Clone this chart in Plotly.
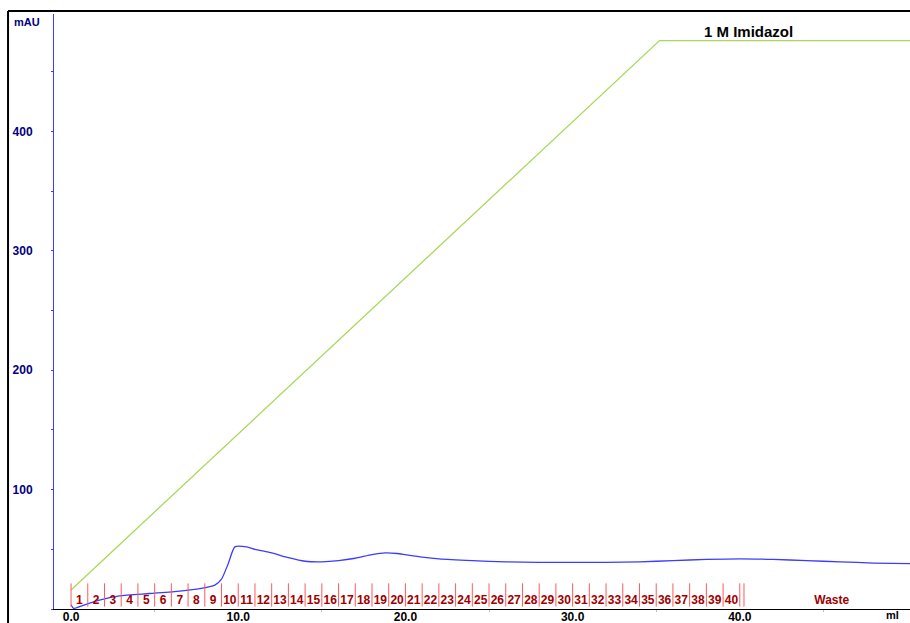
import plotly.graph_objects as go

# UV absorbance trace (ml, mAU)
uv_ml = [0.0, 0.15, 0.6, 1.7, 2.9, 4.7, 6.5, 7.7, 8.6, 9.0, 9.4, 9.8, 10.5, 11.0, 12.0,
         13.0, 14.0, 15.0, 16.0, 17.0, 18.0, 18.8, 19.5, 20.0, 21.0, 22.0, 24.0, 26.0,
         28.0, 30.0, 32.0, 34.0, 36.0, 38.0, 40.0, 42.0, 44.0, 46.0, 48.0, 50.2]
uv_mau = [3.5, 0.5, 2.5, 7.5, 11.0, 13.0, 15.0, 17.0, 20.0, 25.0, 38.0, 52.0, 52.0, 50.0, 47.0,
          43.0, 40.0, 39.5, 40.5, 42.5, 45.5, 47.0, 46.5, 45.5, 43.5, 42.0, 40.5, 39.5,
          39.0, 39.0, 39.0, 39.5, 40.5, 41.5, 42.0, 41.5, 40.5, 39.5, 38.5, 38.0]

# Imidazole gradient drawn on the mAU scale
grad_ml = [0.0, 35.2, 50.2]
grad_mau = [16.0, 476.0, 476.0]

# Fraction collection: 1 ml fractions, then waste
frac_edges = list(range(0, 41)) + [40.25]
frac_labels = [str(i) for i in range(1, 41)]
waste_label = "Waste"

FONT = "Liberation Sans, Arial"

fig = go.Figure()

fig.add_trace(go.Scatter(x=grad_ml, y=grad_mau, mode="lines",
                         line=dict(color="#aad85a", width=1.3), hoverinfo="skip"))
fig.add_trace(go.Scatter(x=uv_ml, y=uv_mau, mode="lines",
                         line=dict(color="#3c3cff", width=1.3, shape="spline", smoothing=0.6),
                         hoverinfo="skip"))

# fraction boundary marks
fx, fy = [], []
for e in frac_edges:
    fx += [e, e, None]
    fy += [2.0, 21.5, None]
fig.add_trace(go.Scatter(x=fx, y=fy, mode="lines",
                         line=dict(color="#ff5a5a", width=1), hoverinfo="skip"))

# fraction numbers
fig.add_trace(go.Scatter(x=[i + 0.5 for i in range(40)], y=[6.5] * 40, mode="text",
                         text=["<b>%s</b>" % t for t in frac_labels],
                         textfont=dict(family=FONT, size=12, color="#a00000"),
                         hoverinfo="skip"))
fig.add_trace(go.Scatter(x=[45.5], y=[6.5], mode="text", text=["<b>%s</b>" % waste_label],
                         textfont=dict(family=FONT, size=12, color="#a00000"),
                         hoverinfo="skip"))

fig.add_annotation(x=40.5, y=484, text="<b>1 M Imidazol</b>", showarrow=False,
                   font=dict(family=FONT, size=15, color="#000000"))
fig.add_annotation(xref="paper", yref="paper", x=-0.049, y=0.987, xanchor="left",
                   yanchor="middle", text="<b>mAU</b>", showarrow=False,
                   font=dict(family=FONT, size=11, color="#000080"))
fig.add_annotation(xref="paper", yref="paper", x=0.979, y=-0.0105, xanchor="center",
                   yanchor="middle", text="<b>ml</b>", showarrow=False,
                   font=dict(family=FONT, size=11, color="#000000"))

# outer frame (left and top edges)
fig.add_shape(type="line", xref="paper", yref="paper", x0=-0.0537, x1=-0.0537,
              y0=-0.04, y1=1.005, line=dict(color="#000000", width=2))
fig.add_shape(type="line", xref="paper", yref="paper", x0=-0.0537, x1=1.01,
              y0=1.005, y1=1.005, line=dict(color="#000000", width=2))

fig.update_layout(
    width=910, height=623,
    margin=dict(l=54, r=0, t=14, b=14),
    paper_bgcolor="white", plot_bgcolor="white",
    showlegend=False,
    xaxis=dict(range=[-1.02, 50.18], dtick=10, tick0=0, tickformat=".1f", automargin=False,
               showgrid=False, zeroline=False, showline=True, linecolor="#000000", linewidth=1,
               ticks="", ticklabelstandoff=-3,
               minor=dict(dtick=5, ticks="outside", ticklen=2, tickcolor="#bbbbbb"),
               tickfont=dict(family=FONT, size=12, color="#000000"),
               tickprefix="<b>", ticksuffix="</b>"),
    yaxis=dict(range=[0, 498.3], dtick=100, tick0=0, showgrid=False, zeroline=False,
               automargin=False,
               showline=True, linecolor="#3c3cff", linewidth=1,
               ticks="outside", ticklen=2, tickcolor="#3c3cff",
               minor=dict(dtick=50, ticks="outside", ticklen=2, tickcolor="#3c3cff"),
               tickvals=[100, 200, 300, 400],
               ticktext=["<b>100</b>", "<b>200</b>", "<b>300</b>", "<b>400</b>"],
               ticklabelstandoff=16,
               tickfont=dict(family=FONT, size=12, color="#000080")),
)

fig.write_html("out.html")
